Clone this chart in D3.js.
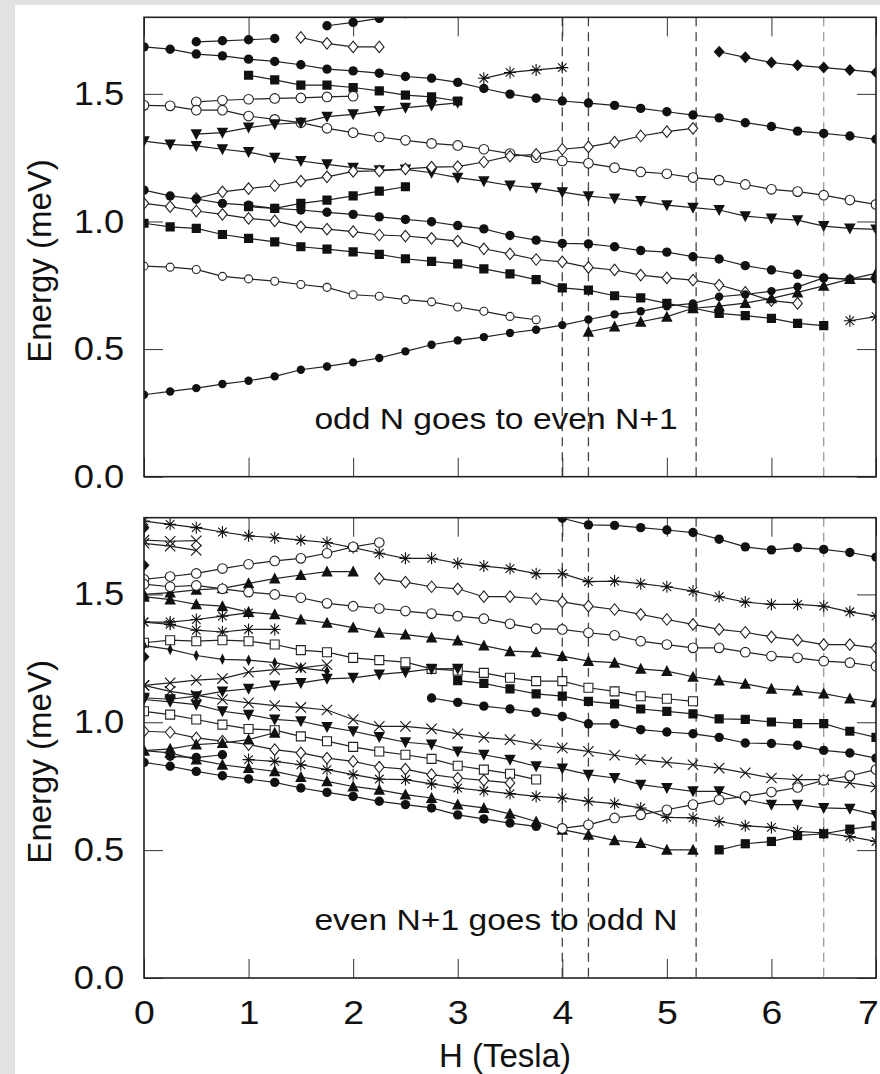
<!DOCTYPE html>
<html>
<head>
<meta charset="utf-8">
<title>Energy levels against field</title>
<script src="https://cdn.jsdelivr.net/npm/d3@7"></script>
<style>
  body { margin: 0; background: #e2e2e0; }
  svg { display: block; }
  text { font-family: "Liberation Sans", Arial, Helvetica, sans-serif; fill: #111; }
</style>
</head>
<body>
<svg id="chart" width="880" height="1074"></svg>
<script>
// field grid (Tesla), every series is sampled on it
var hGrid = [0, 0.25, 0.5, 0.75, 1, 1.25, 1.5, 1.75, 2, 2.25, 2.5, 2.75, 3, 3.25, 3.5, 3.75,
             4, 4.25, 4.5, 4.75, 5, 5.25, 5.5, 5.75, 6, 6.25, 6.5, 6.75, 7];
var xTicks = [0, 1, 2, 3, 4, 5, 6, 7];
var yTicks = [0, 0.5, 1.0, 1.5];
var guideH = [4, 4.25, 5.28, 6.5];

// ---- upper panel: odd N goes to even N+1 (meV) ----
var up_dotA  = [1.684,1.675,1.656,1.649,1.636,1.627,1.614,1.597,1.590,1.581,1.568,1.561,1.545,1.521,1.499,1.483,1.472,1.464,1.455,1.443,1.430,1.417,1.406,1.387,1.372,1.354,1.345,1.335,1.322];
var up_dotB  = [1.704,1.708,1.712,1.717];
var up_dotC  = [1.767,1.780,1.796,1.815];
var up_odiaA = [1.721,1.698,1.684,1.684];
var up_sqA   = [1.573,1.555,1.534,1.534,1.525,1.512,1.495,1.488,1.472];
var up_starA = [1.561,1.584,1.594,1.603];
var up_fdiaA = [1.665,1.643,1.623,1.612,1.603,1.594,1.584];
var up_ringA = [1.469,1.475,1.479,1.482,1.484,1.488,1.491];
var up_ringB = [1.455,1.453,1.436,1.436,1.413,1.400,1.387,1.365,1.348,1.331,1.318,1.306,1.298,1.283,1.266,1.250,1.237,1.228,1.211,1.194,1.187,1.172,1.162,1.145,1.126,1.117,1.103,1.084,1.067];
var up_tdA   = [1.342,1.348,1.368,1.381,1.387,1.411,1.420,1.433,1.446,1.455,1.465];
var up_tdB   = [1.315,1.302,1.296,1.283,1.272,1.250,1.237,1.224,1.211,1.201,1.204,1.191,1.172,1.158,1.141,1.132,1.115,1.099,1.090,1.080,1.064,1.054,1.045,1.021,1.012,1.005,0.982,0.973,0.969];
var up_odiaB = [1.090,1.116,1.129,1.140,1.158,1.175,1.196,1.198,1.206,1.213,1.215,1.233,1.256,1.263,1.283,1.292,1.311,1.335,1.352,1.365];
var up_dotD  = [1.123,1.100,1.088,1.071,1.064,1.051,1.045,1.036,1.028,1.018,1.008,0.999,0.984,0.971,0.945,0.927,0.914,0.912,0.901,0.886,0.880,0.862,0.853,0.827,0.810,0.793,0.779,0.774,0.775];
var up_sqB   = [1.058,1.051,1.071,1.084,1.100,1.119,1.136];
var up_odiaC = [1.071,1.058,1.041,1.028,1.012,1.002,0.979,0.970,0.960,0.947,0.943,0.934,0.923,0.893,0.873,0.851,0.842,0.820,0.810,0.790,0.779,0.770,0.751,0.722,0.690,0.679];
var up_sqC   = [0.993,0.979,0.973,0.949,0.934,0.920,0.901,0.892,0.881,0.871,0.854,0.844,0.834,0.814,0.795,0.772,0.740,0.731,0.709,0.701,0.679,0.660,0.640,0.631,0.620,0.601,0.592];
var up_ringC = [0.825,0.821,0.812,0.785,0.775,0.766,0.753,0.742,0.713,0.707,0.694,0.685,0.665,0.648,0.628,0.615];
var up_dotE  = [0.321,0.334,0.347,0.363,0.376,0.393,0.419,0.432,0.448,0.465,0.491,0.517,0.534,0.547,0.563,0.576,0.594,0.616,0.636,0.648,0.668,0.679,0.705,0.714,0.727,0.744,0.779,0.774,0.774];
var up_tuA   = [0.568,0.588,0.607,0.627,0.660,0.668,0.680,0.699,0.722,0.748,0.774,0.797];
var up_starB = [0.611,0.627];

// ---- lower panel: even N+1 goes to odd N (meV) ----
var lo_starA = [1.787,1.774,1.761,1.744,1.729,1.722,1.712,1.703,1.683,1.661,1.641,1.641,1.622,1.611,1.601,1.581,1.581,1.550,1.552,1.542,1.530,1.513,1.491,1.470,1.461,1.461,1.454,1.432,1.415];
var lo_dotA  = [1.798,1.772,1.770,1.761,1.752,1.742,1.716,1.686,1.674,1.683,1.676,1.664,1.646];
var lo_crsA  = [1.712,1.708,1.710];
var lo_crsB  = [1.700,1.689,1.672];
var lo_fdiaA = [1.761];
var lo_fdiaB = [1.614];
var lo_fdiaC = [1.256];
var lo_ringA = [1.559,1.570,1.582,1.601,1.618,1.631,1.641,1.661,1.686,1.703];
var lo_tuA   = [1.500,1.507,1.518,1.524,1.543,1.562,1.576,1.589,1.589];
var lo_tuB   = [1.491,1.480,1.461,1.454,1.431,1.422,1.402,1.389,1.370,1.350,1.343,1.331,1.320,1.300,1.278,1.274,1.259,1.239,1.233,1.209,1.200,1.178,1.163,1.150,1.131,1.124,1.112,1.093,1.078];
var lo_ringB = [1.540,1.530,1.535,1.522,1.509,1.500,1.487,1.465,1.454,1.445,1.435,1.425,1.415,1.405,1.385,1.366,1.363,1.350,1.340,1.317,1.304,1.291,1.291,1.274,1.259,1.252,1.239,1.233,1.219];
var lo_odiaA = [1.562,1.548,1.530,1.522,1.491,1.491,1.483,1.471,1.454,1.441,1.422,1.402,1.383,1.363,1.352,1.334,1.321,1.304,1.304,1.291];
var lo_starB = [1.392,1.392,1.402,1.415,1.428];
var lo_starC = [1.392,1.383,1.360,1.353,1.363,1.363];
var lo_osqA  = [1.311,1.321,1.317,1.321,1.317,1.304,1.282,1.274,1.252,1.243,1.235,1.209,1.202,1.193,1.174,1.161,1.161,1.135,1.121,1.102,1.092,1.082];
var lo_ndiaA = [1.300,1.285,1.261,1.246,1.243,1.233,1.213,1.200];
var lo_crsC  = [1.144,1.154,1.165,1.171,1.196,1.206,1.213,1.225];
var lo_tdA   = [1.096,1.090,1.102,1.121,1.131,1.144,1.154,1.170,1.174,1.187,1.196,1.209,1.210];
var lo_crsD  = [1.144,1.121,1.105,1.089,1.076,1.065,1.058,1.048,1.011,0.984,0.984,0.974,0.955,0.941,0.932,0.913,0.900,0.886,0.871,0.854,0.843,0.834,0.821,0.802,0.782,0.776,0.776,0.763,0.747];
var lo_tdB   = [1.089,1.080,1.069,1.043,1.030,1.011,1.004,0.982,0.965,0.943,0.922,0.913,0.886,0.873,0.854,0.828,0.819,0.795,0.782,0.756,0.743,0.730,0.730,0.697,0.678,0.678,0.665,0.662,0.638];
var lo_dotB  = [1.095,1.078,1.063,1.052,1.039,1.023,0.994,0.994,0.971,0.962,0.955,0.941,0.919,0.917,0.910,0.890,0.880,0.860];
var lo_sqA   = [1.163,1.152,1.131,1.111,1.102,1.082,1.072,1.052,1.043,1.033,1.013,1.011,1.001,0.995,0.995,0.965,0.941];
var lo_osqB  = [1.043,1.030,1.011,0.991,0.974,0.969,0.945,0.926,0.904,0.886,0.873,0.857,0.830,0.815,0.799,0.776];
var lo_odiaB = [0.965,0.961,0.939,0.926,0.913,0.893,0.880,0.860,0.847,0.825,0.817,0.795,0.782,0.773,0.763];
var lo_tuC   = [0.889,0.896,0.913,0.919,0.932,0.959];
var lo_tuD   = [0.889,0.880,0.854,0.834,0.821,0.808,0.786,0.769,0.749,0.736,0.717,0.704,0.678,0.665,0.642,0.612,0.580,0.560,0.538,0.528,0.501,0.501];
var lo_dotC  = [0.843,0.828,0.808,0.791,0.778,0.765,0.743,0.726,0.710,0.691,0.678,0.665,0.638,0.622,0.606,0.593];
var lo_dotD  = [0.867,0.862,0.873];
var lo_starD = [0.854,0.847,0.834,0.815,0.795,0.778,0.776,0.759,0.743,0.732,0.721,0.710,0.704,0.691,0.682,0.665,0.628,0.626,0.612,0.595,0.589,0.573,0.567,0.553,0.534];
var lo_ringC = [0.585,0.599,0.626,0.638,0.658,0.678,0.697,0.710,0.727,0.745,0.773,0.791,0.815];
var lo_sqB   = [0.501,0.525,0.534,0.557,0.564,0.582,0.595];

// series: marker, first field value, energies
var upperSeries = [
  {m: "dot", h0: 0, e: up_dotA}, {m: "dot", h0: 0.5, e: up_dotB}, {m: "dot", h0: 1.75, e: up_dotC},
  {m: "odia", h0: 1.5, e: up_odiaA}, {m: "sq", h0: 1, e: up_sqA}, {m: "star", h0: 3.25, e: up_starA},
  {m: "fdia", h0: 5.5, e: up_fdiaA}, {m: "ring", h0: 0.5, e: up_ringA}, {m: "ring", h0: 0, e: up_ringB},
  {m: "td", h0: 0.5, e: up_tdA}, {m: "td", h0: 0, e: up_tdB}, {m: "odia", h0: 0.5, e: up_odiaB},
  {m: "dot", h0: 0, e: up_dotD}, {m: "sq", h0: 1, e: up_sqB}, {m: "odia", h0: 0, e: up_odiaC},
  {m: "sq", h0: 0, e: up_sqC}, {m: "ringS", h0: 0, e: up_ringC}, {m: "dotS", h0: 0, e: up_dotE},
  {m: "tu", h0: 4.25, e: up_tuA}, {m: "star", h0: 6.75, e: up_starB}
];
var lowerSeries = [
  {m: "star", h0: 0, e: lo_starA}, {m: "dot", h0: 4, e: lo_dotA}, {m: "cross", h0: 0, e: lo_crsA},
  {m: "cross", h0: 0, e: lo_crsB}, {m: "fdia", h0: 0, e: lo_fdiaA}, {m: "fdia", h0: 0, e: lo_fdiaB},
  {m: "fdia", h0: 0, e: lo_fdiaC}, {m: "ring", h0: 0, e: lo_ringA}, {m: "tu", h0: 0, e: lo_tuA},
  {m: "tu", h0: 0, e: lo_tuB}, {m: "ring", h0: 0, e: lo_ringB}, {m: "odia", h0: 2.25, e: lo_odiaA},
  {m: "star", h0: 0, e: lo_starB}, {m: "star", h0: 0, e: lo_starC}, {m: "osq", h0: 0, e: lo_osqA},
  {m: "ndia", h0: 0, e: lo_ndiaA}, {m: "cross", h0: 0, e: lo_crsC}, {m: "td", h0: 0, e: lo_tdA},
  {m: "cross", h0: 0, e: lo_crsD}, {m: "td", h0: 0, e: lo_tdB}, {m: "dot", h0: 2.75, e: lo_dotB},
  {m: "sq", h0: 3, e: lo_sqA}, {m: "osq", h0: 0, e: lo_osqB}, {m: "odia", h0: 0, e: lo_odiaB},
  {m: "tu", h0: 0, e: lo_tuC}, {m: "tu", h0: 0, e: lo_tuD}, {m: "dot", h0: 0, e: lo_dotC},
  {m: "dot", h0: 0.25, e: lo_dotD}, {m: "star", h0: 1, e: lo_starD}, {m: "ring", h0: 4, e: lo_ringC},
  {m: "sq", h0: 5.5, e: lo_sqB}
];

// marker shapes (centred on 0,0)
function circ(r) { return d3.symbol().type(d3.symbolCircle).size(Math.PI * r * r)(); }
function box(s) { return d3.symbol().type(d3.symbolSquare).size(s * s)(); }
function tri(w, h, dir) {
  return "M0," + (-dir * h * 0.55) + "L" + (w / 2) + "," + (dir * h * 0.45) + "L" + (-w / 2) + "," + (dir * h * 0.45) + "Z";
}
function rhomb(w, h) { return "M0," + (-h / 2) + "L" + (w / 2) + ",0L0," + (h / 2) + "L" + (-w / 2) + ",0Z"; }
var marks = {
  dot:   {d: circ(4.7), fill: "#111", stroke: "none"},
  dotS:  {d: circ(4.2), fill: "#111", stroke: "none"},
  ring:  {d: circ(4.8), fill: "#fff", stroke: "#222"},
  ringS: {d: circ(4.0), fill: "#fff", stroke: "#222"},
  sq:    {d: box(9.2), fill: "#111", stroke: "none"},
  osq:   {d: box(9.0), fill: "#fff", stroke: "#222"},
  tu:    {d: tri(11.5, 11, 1), fill: "#111", stroke: "none"},
  td:    {d: tri(11.5, 11, -1), fill: "#111", stroke: "none"},
  odia:  {d: rhomb(9.5, 11.5), fill: "#fff", stroke: "#222"},
  fdia:  {d: rhomb(11, 12), fill: "#111", stroke: "none"},
  ndia:  {d: rhomb(5.5, 11.5), fill: "#111", stroke: "none"},
  star:  {d: "M-6,0H6M0,-6V6M-4.3,-4.3L4.3,4.3M-4.3,4.3L4.3,-4.3", fill: "none", stroke: "#111"},
  cross: {d: "M-5.2,-5.2L5.2,5.2M-5.2,5.2L5.2,-5.2", fill: "none", stroke: "#111"}
};

var svg = d3.select("#chart");
svg.append("rect").attr("x", 15).attr("y", 5).attr("width", 865).attr("height", 1069).attr("fill", "#fff");

var x = d3.scaleLinear().domain([0, 7]).range([144, 876]);

function drawPanel(top, bottom, series, note, noteY, clipId, withLabels) {
  var y = d3.scaleLinear().domain([0, 1.8]).range([bottom, top]);
  var g = svg.append("g");

  svg.append("clipPath").attr("id", clipId).append("rect")
    .attr("x", x(0)).attr("y", top).attr("width", x(7) - x(0)).attr("height", bottom - top);

  // dashed field markers
  g.selectAll(".guide").data(guideH).enter().append("line")
    .attr("x1", function (d) { return x(d); }).attr("x2", function (d) { return x(d); })
    .attr("y1", top).attr("y2", bottom)
    .attr("stroke", function (d) { return d === 6.5 ? "#999" : "#444"; })
    .attr("stroke-width", 1.3).attr("stroke-dasharray", "9,6");

  // ticks on all four sides, pointing inwards
  var axes = [
    [d3.axisBottom(x).tickValues(xTicks).tickFormat(d3.format("d")), "translate(0," + bottom + ")"],
    [d3.axisTop(x).tickValues(xTicks).tickFormat(""), "translate(0," + top + ")"],
    [d3.axisLeft(y).tickValues(yTicks).tickFormat(d3.format(".1f")), "translate(" + x(0) + ",0)"],
    [d3.axisRight(y).tickValues(yTicks).tickFormat(""), "translate(" + x(7) + ",0)"]
  ];
  axes.forEach(function (a, i) {
    var ax = g.append("g").attr("transform", a[1])
      .call(a[0].tickSizeInner(-19).tickSizeOuter(0).tickPadding(i === 2 ? 18 : 22));
    ax.select(".domain").remove();
    ax.attr("font-size", i === 0 ? 34 : 33).attr("font-family", null).attr("color", "#333");
    ax.selectAll("text").attr("fill", "#111").attr("transform", "scale(1.1,1)");
    if (i === 0 && !withLabels) ax.selectAll("text").remove();
    if (i === 0) {
      // the last label sits on the right edge of the picture
      ax.selectAll("text").filter(function (d) { return d === 7; })
        .attr("text-anchor", "end").attr("x", 2);
    }
  });

  // energy levels
  var plot = g.append("g").attr("clip-path", "url(#" + clipId + ")");
  var line = d3.line().x(function (d) { return x(d[0]); }).y(function (d) { return y(d[1]); });
  series.forEach(function (s) {
    var i0 = hGrid.indexOf(s.h0);
    var pts = s.e.map(function (v, i) { return [hGrid[i0 + i], v]; });
    var mk = marks[s.m];
    plot.append("path").datum(pts).attr("d", line)
      .attr("fill", "none").attr("stroke", "#222").attr("stroke-width", 1.2);
    plot.selectAll(null).data(pts).enter().append("path")
      .attr("transform", function (d) { return "translate(" + x(d[0]) + "," + y(d[1]) + ")"; })
      .attr("d", mk.d).attr("fill", mk.fill).attr("stroke", mk.stroke).attr("stroke-width", 1.1);
  });

  // frame
  g.append("rect").attr("x", x(0)).attr("y", top).attr("width", x(7) - x(0)).attr("height", bottom - top)
    .attr("fill", "none").attr("stroke", "#222").attr("stroke-width", 1.6);

  g.append("text").attr("transform", "translate(496," + noteY + ") scale(1.12,1)")
    .attr("text-anchor", "middle").attr("font-size", 30).text(note);

  g.append("text").attr("transform", "translate(51," + ((top + bottom) / 2 + 14) + ") rotate(-90)")
    .attr("text-anchor", "middle").attr("font-size", 33).text("Energy (meV)");
}

drawPanel(17.3, 476.7, upperSeries, "odd N goes to even N+1", 429, "clipUp", false);
drawPanel(517.7, 978, lowerSeries, "even N+1 goes to odd N", 930, "clipLo", true);

svg.append("text").attr("x", 505).attr("y", 1067).attr("text-anchor", "middle")
  .attr("font-size", 33).text("H (Tesla)");
</script>
</body>
</html>
